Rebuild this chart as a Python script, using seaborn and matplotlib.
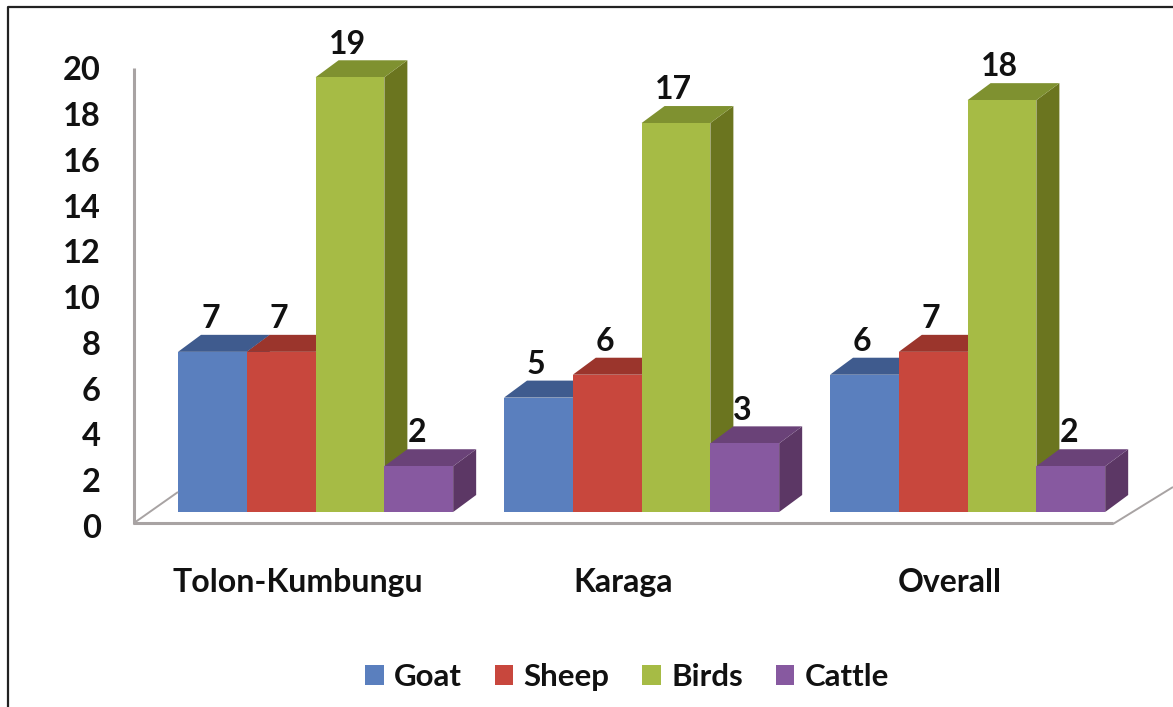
import matplotlib
matplotlib.use("Agg")
import matplotlib.pyplot as plt
import matplotlib.transforms as mtrans
from matplotlib.lines import Line2D
from matplotlib.patches import Polygon
import pandas as pd
import seaborn as sns

sites = ["Tolon-Kumbungu", "Karaga", "Overall"]
animals = ["Goat", "Sheep", "Birds", "Cattle"]
goat = [7, 5, 6]
sheep = [7, 6, 7]
birds = [19, 17, 18]
cattle = [2, 3, 2]
y_ticks = list(range(0, 21, 2))

front_colors = ["#5A7FBE", "#C8473D", "#A6BB45", "#8759A0"]
top_colors = ["#3F5B8E", "#9B352C", "#7F9130", "#6A4278"]
side_colors = ["#3F5B8E", "#9B352C", "#6B751F", "#5C3765"]

W, H = 1173, 707
FONT = "Lato"
GREY = "#A8A3A3"

sns.set_style("white")
plt.rcParams["font.family"] = [FONT, "DejaVu Sans"]

df = pd.DataFrame({
    "site": sites * 4,
    "animal": [a for a in animals for _ in sites],
    "value": goat + sheep + birds + cattle,
})

fig = plt.figure(figsize=(W / 100, H / 100), dpi=100, facecolor="white")
# front plane of the 3D box : x 134-1113 px, y=0 at 512 px, y=20 at 54 px
ax = fig.add_axes([134 / W, 1 - 512 / H, (1113 - 134) / W, (512 - 54.4) / H])

sns.barplot(data=df, x="site", y="value", hue="animal", order=sites,
            hue_order=animals, palette=front_colors, width=0.844, gap=0,
            saturation=1, linewidth=0, ax=ax, zorder=5)

ax.set_xlim(-0.557, 2.446)
ax.set_ylim(0, 20)
ax.set_xlabel("")
ax.set_ylabel("")
ax.set_yticks(y_ticks)
sns.despine(ax=ax, left=True, bottom=True)
ax.patch.set_alpha(0)

# depth of the fake 3D, in data units
dx = 23 / 326
dy = 17 / 22.88

for i, cont in enumerate(ax.containers):
    for bar in cont:
        x0 = bar.get_x()
        x1 = x0 + bar.get_width()
        h = bar.get_height()
        top = [(x0, h), (x1, h), (x1 + dx, h + dy), (x0 + dx, h + dy)]
        side = [(x1, 0), (x1 + dx, dy), (x1 + dx, h + dy), (x1, h)]
        ax.add_patch(Polygon(side, fc=side_colors[i], ec="none", zorder=2 + i * 0.1, clip_on=False))
        ax.add_patch(Polygon(top, fc=top_colors[i], ec="none", zorder=2.05 + i * 0.1, clip_on=False))
    textes = ax.bar_label(cont, fmt="%d", padding=13.5, fontsize=23, fontweight="bold",
                          color="#111111", zorder=8)
    for t in textes:
        t.xyann = (t.xyann[0] - 1.5, t.xyann[1])

# tick labels sit on the floor front edge, not on the bars plane
ax.tick_params(axis="y", length=0, pad=24, labelsize=23.5)
ax.tick_params(axis="x", length=0, pad=40, labelsize=23)
shift_y = mtrans.ScaledTranslation(0, -14 / 100, fig.dpi_scale_trans)
shift_x = mtrans.ScaledTranslation(-18 / 100, 0, fig.dpi_scale_trans)
for lab in ax.get_yticklabels():
    lab.set_transform(lab.get_transform() + shift_y)
    lab.set_fontweight("bold")
    lab.set_color("#111111")
for lab in ax.get_xticklabels():
    lab.set_transform(lab.get_transform() + shift_x)
    lab.set_fontweight("bold")
    lab.set_color("#111111")

# axis walls and image frame, in pixel coords
px = mtrans.Affine2D().scale(1, -1).translate(0, H)


def trait(xs, ys, color, lw):
    fig.add_artist(Line2D(xs, ys, transform=px, color=color, lw=lw, solid_capstyle="butt"))


trait([134, 134], [68, 524], GREY, 2.2)
trait([133, 1113], [523, 523], GREY, 2.2)
trait([134, 178], [523, 492], GREY, 1.4)
trait([1113, 1173], [524, 487], GREY, 1.4)
trait([8, 8, 1173], [707, 7, 7], "#222222", 1.6)

handles, labels = ax.get_legend_handles_labels()
ax.legend(handles, labels, loc="center", bbox_to_anchor=(627 / W, 1 - 677 / H),
          bbox_transform=fig.transFigure, ncol=4, frameon=False,
          prop={"size": 22.5, "weight": "bold"},
          handlelength=0.59, handleheight=0.59, handletextpad=0.33,
          columnspacing=1.05, labelcolor="#111111")

fig.savefig("out.png", dpi=100)
